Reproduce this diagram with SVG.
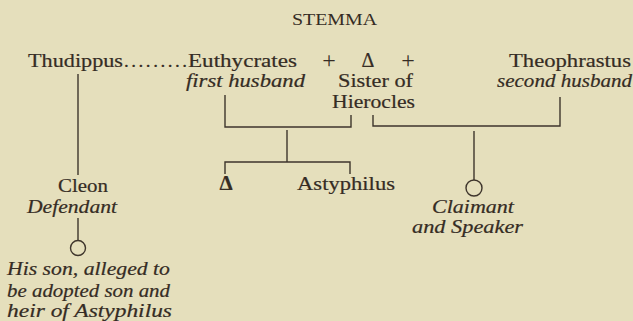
<svg xmlns="http://www.w3.org/2000/svg" width="633" height="321" viewBox="0 0 633 321">
<style>
.t{font-family:"Liberation Serif",serif;font-size:19px;fill:#352c24;stroke:#352c24;stroke-width:0.2}
.i{font-family:"Liberation Serif",serif;font-style:italic;font-size:18px;fill:#352c24;stroke:#352c24;stroke-width:0.2}
.c{text-anchor:middle}
.ln{stroke:#3e352c;stroke-width:1.4;fill:none}
</style>
<rect width="633" height="321" fill="#e5dfbc"/>
<g id="title"><text class="t" x="292" y="25" style="font-size:16px;stroke-width:0" textLength="85" lengthAdjust="spacingAndGlyphs">STEMMA</text></g>
<g id="thudippus-euthycrates">
<text class="t" y="67"><tspan x="28" textLength="95" lengthAdjust="spacingAndGlyphs">Thudippus</tspan><tspan x="124" textLength="63" lengthAdjust="spacing">.........</tspan><tspan x="188" textLength="109" lengthAdjust="spacingAndGlyphs">Euthycrates</tspan></text>
<text class="i" x="186" y="87" textLength="119" lengthAdjust="spacingAndGlyphs">first husband</text>
</g>
<g id="sister">
<text class="t c" y="68" style="font-size:24px;stroke-width:0"><tspan x="329">+</tspan><tspan x="408">+</tspan></text>
<text class="t c" x="368" y="67" style="font-size:20px">Δ</text>
<text class="t" x="338" y="87" textLength="75" lengthAdjust="spacingAndGlyphs">Sister of</text>
<text class="t" x="332" y="108" textLength="83" lengthAdjust="spacingAndGlyphs">Hierocles</text>
</g>
<g id="theophrastus">
<text class="t" x="509" y="67" textLength="122" lengthAdjust="spacingAndGlyphs">Theophrastus</text>
<text class="i" x="497" y="87" textLength="135" lengthAdjust="spacingAndGlyphs">second husband</text>
</g>
<g id="cleon">
<text class="t" x="58" y="192" textLength="50" lengthAdjust="spacingAndGlyphs">Cleon</text>
<text class="i" x="27" y="213" textLength="90" lengthAdjust="spacingAndGlyphs">Defendant</text>
</g>
<g id="son">
<circle class="ln" cx="78" cy="248" r="7.5"/>
<text class="i" x="7" y="275" textLength="163" lengthAdjust="spacingAndGlyphs">His son, alleged to</text>
<text class="i" x="7" y="297" textLength="163" lengthAdjust="spacingAndGlyphs">be adopted son and</text>
<text class="i" x="7" y="317" textLength="165" lengthAdjust="spacingAndGlyphs">heir of Astyphilus</text>
</g>
<g id="child-delta"><text class="t c" x="226" y="190" style="font-size:21px;font-weight:bold">Δ</text></g>
<g id="astyphilus"><text class="t" x="297" y="190" textLength="98" lengthAdjust="spacingAndGlyphs">Astyphilus</text></g>
<g id="claimant">
<circle class="ln" cx="474" cy="188" r="8"/>
<text class="i" x="432" y="213" textLength="82" lengthAdjust="spacingAndGlyphs">Claimant</text>
<text class="i" x="412" y="233" textLength="111" lengthAdjust="spacingAndGlyphs">and Speaker</text>
</g>
<g id="connectors" class="ln">
<path d="M78 74V175"/>
<path d="M78 218V240"/>
<path d="M225 95V127H351V115"/>
<path d="M287 130V162"/>
<path d="M225 174V162H350V174"/>
<path d="M373 115V126H560V97"/>
<path d="M474 131V180"/>
</g>
</svg>
